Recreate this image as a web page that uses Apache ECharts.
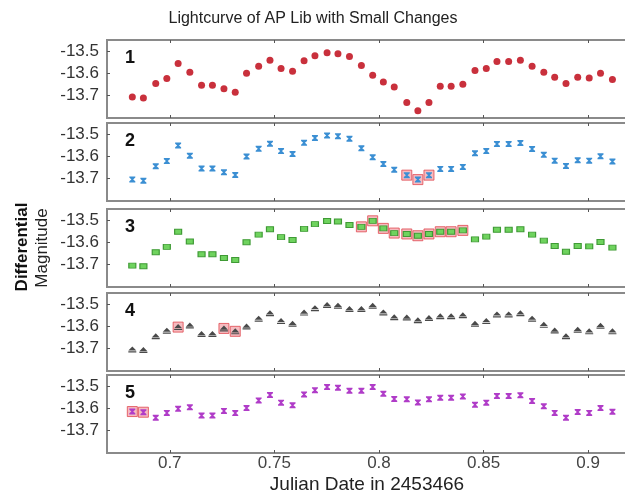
<!DOCTYPE html>
<html lang="en">
<head>
  <meta charset="UTF-8">
  <title>Lightcurve of AP Lib</title>
  <script src="https://cdn.jsdelivr.net/npm/echarts@6/dist/echarts.min.js"></script>
  <style>
    html, body { margin: 0; padding: 0; background: #fff; }
    #main { width: 625px; height: 497px; }
  </style>
</head>
<body>
  <div id="main"></div>
  <script type="text/javascript">
    // julian date offsets (same for every panel)
    var dates = [0.6821, 0.6874, 0.6933, 0.6986, 0.7040, 0.7096, 0.7152, 0.7204, 0.7259, 0.7313,
      0.7367, 0.7425, 0.7479, 0.7532, 0.7587, 0.7642, 0.7694, 0.7752, 0.7804, 0.7859,
      0.7916, 0.7970, 0.8021, 0.8073, 0.8133, 0.8186, 0.8239, 0.8293, 0.8345, 0.8401,
      0.8459, 0.8513, 0.8564, 0.8620, 0.8676, 0.8732, 0.8788, 0.8840, 0.8894, 0.8950,
      0.9005, 0.9059, 0.9116];

    var mag1 = [-13.706, -13.710, -13.645, -13.623, -13.555, -13.595, -13.653, -13.653, -13.669, -13.684,
      -13.599, -13.568, -13.541, -13.578, -13.590, -13.543, -13.521, -13.507, -13.512, -13.524,
      -13.564, -13.608, -13.639, -13.661, -13.731, -13.767, -13.731, -13.657, -13.657, -13.648,
      -13.587, -13.578, -13.546, -13.546, -13.541, -13.568, -13.595, -13.617, -13.645, -13.617,
      -13.621, -13.599, -13.627];
    var mag2 = [-13.703, -13.709, -13.644, -13.621, -13.551, -13.597, -13.654, -13.654, -13.671, -13.683,
      -13.600, -13.566, -13.543, -13.576, -13.589, -13.539, -13.517, -13.506, -13.509, -13.521,
      -13.563, -13.604, -13.634, -13.660, -13.684, -13.704, -13.684, -13.656, -13.656, -13.647,
      -13.586, -13.576, -13.544, -13.544, -13.540, -13.567, -13.593, -13.619, -13.643, -13.617,
      -13.619, -13.599, -13.623];
    var mag3 = [-13.704, -13.707, -13.644, -13.620, -13.552, -13.596, -13.653, -13.653, -13.670, -13.679,
      -13.599, -13.565, -13.541, -13.576, -13.589, -13.539, -13.518, -13.504, -13.506, -13.522,
      -13.530, -13.503, -13.537, -13.558, -13.562, -13.570, -13.562, -13.552, -13.552, -13.546,
      -13.586, -13.574, -13.543, -13.543, -13.541, -13.565, -13.592, -13.616, -13.642, -13.616,
      -13.618, -13.598, -13.623];
    var mag4 = [-13.703, -13.706, -13.644, -13.619, -13.603, -13.596, -13.634, -13.634, -13.609, -13.622,
      -13.600, -13.565, -13.541, -13.576, -13.588, -13.538, -13.518, -13.504, -13.507, -13.522,
      -13.522, -13.507, -13.537, -13.559, -13.560, -13.572, -13.562, -13.554, -13.554, -13.550,
      -13.588, -13.576, -13.546, -13.546, -13.541, -13.565, -13.593, -13.618, -13.644, -13.615,
      -13.622, -13.597, -13.622];
    var mag5 = [-13.614, -13.617, -13.642, -13.620, -13.602, -13.595, -13.632, -13.632, -13.611, -13.621,
      -13.598, -13.564, -13.540, -13.574, -13.586, -13.537, -13.518, -13.504, -13.507, -13.521,
      -13.521, -13.504, -13.534, -13.558, -13.559, -13.573, -13.559, -13.552, -13.552, -13.546,
      -13.584, -13.574, -13.544, -13.544, -13.541, -13.567, -13.590, -13.620, -13.642, -13.616,
      -13.620, -13.598, -13.615];

    // indices of the changed points (red boxes)
    var changed1 = [];
    var changed2 = [24, 25, 26];
    var changed3 = [20, 21, 22, 23, 24, 25, 26, 27, 28, 29];
    var changed4 = [4, 8, 9];
    var changed5 = [0, 1];

    var panelLabels = ['1', '2', '3', '4', '5'];
    var xTicks = [0.7, 0.75, 0.8, 0.85, 0.9];
    var yTicks = [-13.7, -13.6, -13.5];

    var hourglass = 'path://M0,0 L10,0 L10,2 L6.5,5 L10,8 L10,10 L0,10 L0,8 L3.5,5 L0,2 Z';
    var panels = [
      { mag: mag1, changed: changed1, symbol: 'circle', size: 7, color: '#c9303c', border: '#a8202a' },
      { mag: mag2, changed: changed2, symbol: hourglass, size: [6, 6], color: '#3b8fd3', border: '#3b8fd3' },
      { mag: mag3, changed: changed3, symbol: 'rect', size: [7, 5], color: '#6fd35e', border: '#3f9a35' },
      { mag: mag4, changed: changed4, symbol: 'path://M5,0 L10,7 L0,7 Z M0,8 L10,8 L10,10 L0,10 Z', size: [8, 6], color: '#4a4a4a', border: '#4a4a4a' },
      { mag: mag5, changed: changed5, symbol: hourglass, size: [6, 6], color: '#b03cc8', border: '#b03cc8' }
    ];

    var tops = [40, 123, 209, 293, 375];
    var gridH = 78;

    var myChart = echarts.init(document.getElementById('main'));

    var grids = [], xAxes = [], yAxes = [], series = [], graphics = [];
    var fontFam = 'Liberation Sans, Arial, sans-serif';

    panels.forEach(function (p, i) {
      grids.push({
        left: 107, width: 523, top: tops[i], height: gridH, outerBoundsMode: 'none',
        show: true, borderColor: '#8a8a8a', borderWidth: 2, backgroundColor: '#fff'
      });
      var isLast = i === panels.length - 1;
      var xBase = {
        gridIndex: i, type: 'value', min: 0.67, max: 0.92, interval: 0.05,
        axisLine: { show: false },
        splitLine: { show: false },
        axisTick: { show: true, inside: true, length: 3, lineStyle: { color: '#555' },
          customValues: xTicks },
        axisLabel: { show: false }
      };
      xAxes.push(Object.assign({}, xBase, {
        position: 'bottom',
        axisLabel: isLast ? {
          show: true, customValues: xTicks, fontSize: 17, color: '#444', fontFamily: fontFam, margin: 2,
          formatter: function (v) { return String(Math.round(v * 100) / 100); }
        } : { show: false }
      }));
      xAxes.push(Object.assign({}, xBase, { position: 'top' }));
      yAxes.push({
        gridIndex: i, type: 'value', min: -13.8, max: -13.45,
        axisLine: { show: false },
        splitLine: { show: false },
        axisTick: { show: true, inside: true, length: 3, lineStyle: { color: '#555' },
          customValues: yTicks },
        axisLabel: {
          customValues: yTicks, fontSize: 17, color: '#333', fontFamily: fontFam, margin: 8,
          formatter: function (v) { return v.toFixed(1); }
        }
      });

      var boxData = p.changed.map(function (k) { return [dates[k], p.mag[k]]; });
      series.push({
        type: 'scatter', xAxisIndex: i * 2, yAxisIndex: i, data: boxData,
        symbol: 'rect', symbolSize: 10, z: 2, silent: true,
        itemStyle: { color: '#f4aab0', borderColor: '#e0474f', borderWidth: 1 }
      });
      series.push({
        type: 'scatter', xAxisIndex: i * 2, yAxisIndex: i,
        data: dates.map(function (d, k) { return [d, p.mag[k]]; }),
        symbol: p.symbol, symbolSize: p.size, z: 3,
        itemStyle: { color: p.color, borderColor: p.border, borderWidth: p.symbol === 'rect' ? 1 : 0, opacity: 1 }
      });

      graphics.push({
        type: 'text', left: 125, top: tops[i] + 9,
        style: { text: panelLabels[i], fontSize: 18, fontWeight: 'bold', fill: '#111', fontFamily: fontFam }
      });
    });

    graphics.push({
      type: 'text', x: 22, y: 247, rotation: Math.PI / 2,
      style: { text: 'Differential', fontSize: 17, fontWeight: 'bold', fill: '#111', fontFamily: fontFam,
        align: 'center', verticalAlign: 'middle' }
    });
    graphics.push({
      type: 'text', x: 42, y: 248, rotation: Math.PI / 2,
      style: { text: 'Magnitude', fontSize: 17, fill: '#222', fontFamily: fontFam,
        align: 'center', verticalAlign: 'middle' }
    });
    graphics.push({
      type: 'text', x: 367, y: 485,
      style: { text: 'Julian Date in 2453466', fontSize: 19, fill: '#222', fontFamily: fontFam,
        align: 'center', verticalAlign: 'middle' }
    });

    var option = {
      animation: false,
      backgroundColor: '#fff',
      title: {
        text: 'Lightcurve of AP Lib with Small Changes',
        left: 308, top: 6, textAlign: 'center',
        textStyle: { fontSize: 16, fontWeight: 'normal', color: '#222', fontFamily: fontFam }
      },
      grid: grids,
      xAxis: xAxes,
      yAxis: yAxes,
      series: series,
      graphic: graphics
    };

    myChart.setOption(option);

    window.onresize = function () {
      myChart.resize();
    };
  </script>
</body>
</html>
